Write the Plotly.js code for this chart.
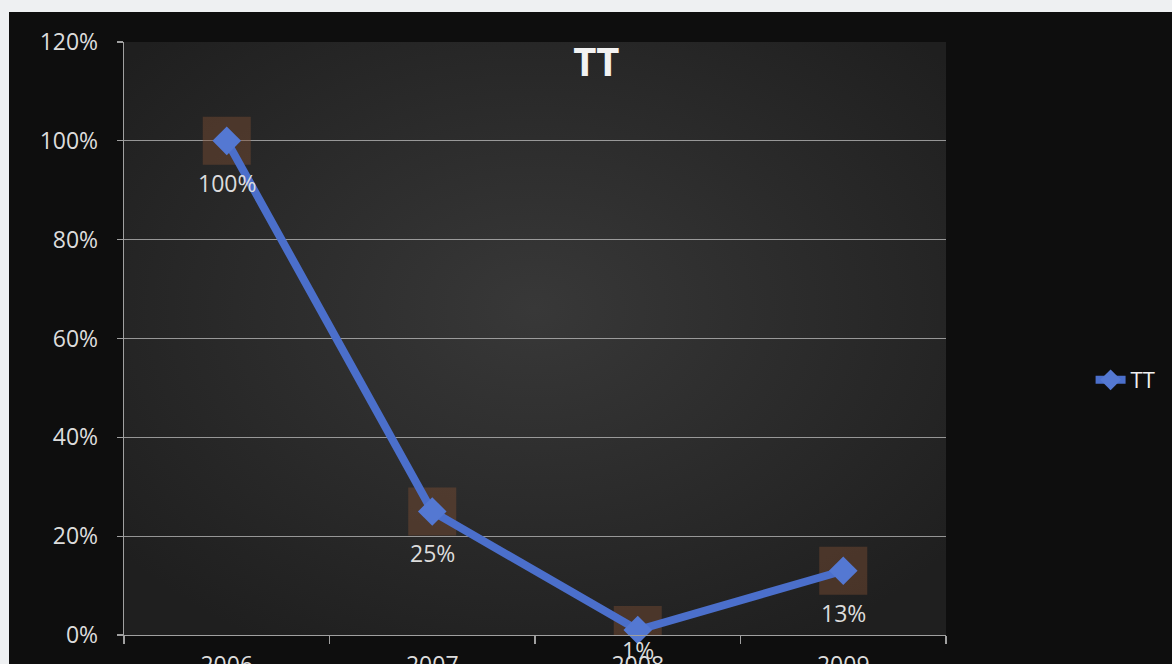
<!DOCTYPE html>
<html>
<head>
<meta charset="utf-8">
<script src="https://cdn.plot.ly/plotly-3.0.1.min.js"></script>
<style>
  html, body { margin: 0; padding: 0; background: #eef0f2; overflow: hidden; }
  #frame { position: absolute; left: 9px; top: 12px; width: 1163px; height: 700px; background: #0e0e0e; }
  #chart { width: 1163px; height: 700px; }
</style>
</head>
<body>
<div id="frame"><div id="chart"></div></div>
<script>
// Yearly share for series "TT"
const years = ['2006', '2007', '2008', '2009'];
const ttValues = [1.00, 0.25, 0.01, 0.13];
const seriesName = 'TT';
const chartTitle = 'TT';

const labelFont = { family: 'Open Sans, Lato, sans-serif', size: 23, color: '#dcdcdc' };

// soft radial shading for the plot area background
const shadeSvg =
  '<svg xmlns="http://www.w3.org/2000/svg" width="100" height="100" preserveAspectRatio="none">' +
  '<defs><radialGradient id="g" cx="50%" cy="45%" r="65%">' +
  '<stop offset="0%" stop-color="#383838"/><stop offset="100%" stop-color="#1f1f1f"/>' +
  '</radialGradient></defs><rect width="100" height="100" fill="url(#g)"/></svg>';
const shadeUri = 'data:image/svg+xml;base64,' + btoa(shadeSvg);

// brownish backdrop squares behind each point (clipped to the plot area)
const backdrop = {
  x: years, y: ttValues, type: 'scatter', mode: 'markers',
  marker: { symbol: 'square', size: 48, color: 'rgba(125,78,50,0.45)', line: { width: 0 } },
  hoverinfo: 'skip', showlegend: false, cliponaxis: true
};

// main series line with diamond markers
const line = {
  x: years, y: ttValues, type: 'scatter', mode: 'lines+markers', name: seriesName,
  line: { color: '#4b6fcb', width: 8 },
  marker: { symbol: 'diamond', size: 22, color: '#5478d2', line: { width: 0 } },
  cliponaxis: false
};

// value labels under each point; the lowest point's label sits closer to it
const annotations = ttValues.map((v, i) => ({
  x: i, y: v, xref: 'x', yref: 'y',
  text: Math.round(v * 100) + '%', showarrow: false,
  xanchor: 'center', yanchor: 'middle',
  yshift: v < 0.05 ? -20 : -42, font: labelFont
}));

const layout = {
  width: 1163, height: 700,
  margin: { l: 115, r: 226, t: 30, b: 77 },
  paper_bgcolor: '#0e0e0e',
  plot_bgcolor: '#2a2a2a',
  images: [{
    source: shadeUri, xref: 'paper', yref: 'paper', x: 0, y: 1,
    sizex: 1, sizey: 1, sizing: 'stretch', xanchor: 'left', yanchor: 'top', layer: 'below'
  }],
  title: {
    text: '<b>' + chartTitle + '</b>',
    font: { family: 'Open Sans, Lato, sans-serif', size: 40, color: '#f2f2f2' },
    xref: 'container', x: 0.505, xanchor: 'center',
    yref: 'container', y: 1 - 50 / 700, yanchor: 'middle'
  },
  xaxis: {
    type: 'category', range: [-0.5, 3.5],
    tickson: 'boundaries', ticks: 'outside', ticklen: 8, tickcolor: '#a0a0a0', tickwidth: 1.2,
    showline: true, linecolor: '#a0a0a0', linewidth: 1.3,
    showgrid: false, zeroline: false,
    tickfont: labelFont, ticklabelstandoff: 9
  },
  yaxis: {
    range: [0, 1.20001], dtick: 0.2, tick0: 0, tickformat: '.0%',
    ticks: 'outside', ticklen: 6, tickcolor: '#a0a0a0', tickwidth: 1.2,
    showline: true, linecolor: '#a0a0a0', linewidth: 1.3,
    showgrid: true, gridcolor: 'rgba(200,200,200,0.7)', gridwidth: 1.3,
    zeroline: false,
    tickfont: labelFont, ticklabelstandoff: 14
  },
  showlegend: true,
  legend: {
    xref: 'container', yref: 'container',
    x: 0.93, y: 1 - 368 / 700, xanchor: 'left', yanchor: 'middle',
    bgcolor: 'rgba(0,0,0,0)', font: { family: 'Open Sans, Lato, sans-serif', size: 22, color: '#f0f0f0' }
  },
  annotations: annotations
};

Plotly.newPlot('chart', [backdrop, line], layout, { displayModeBar: false, staticPlot: true });
</script>
</body>
</html>
